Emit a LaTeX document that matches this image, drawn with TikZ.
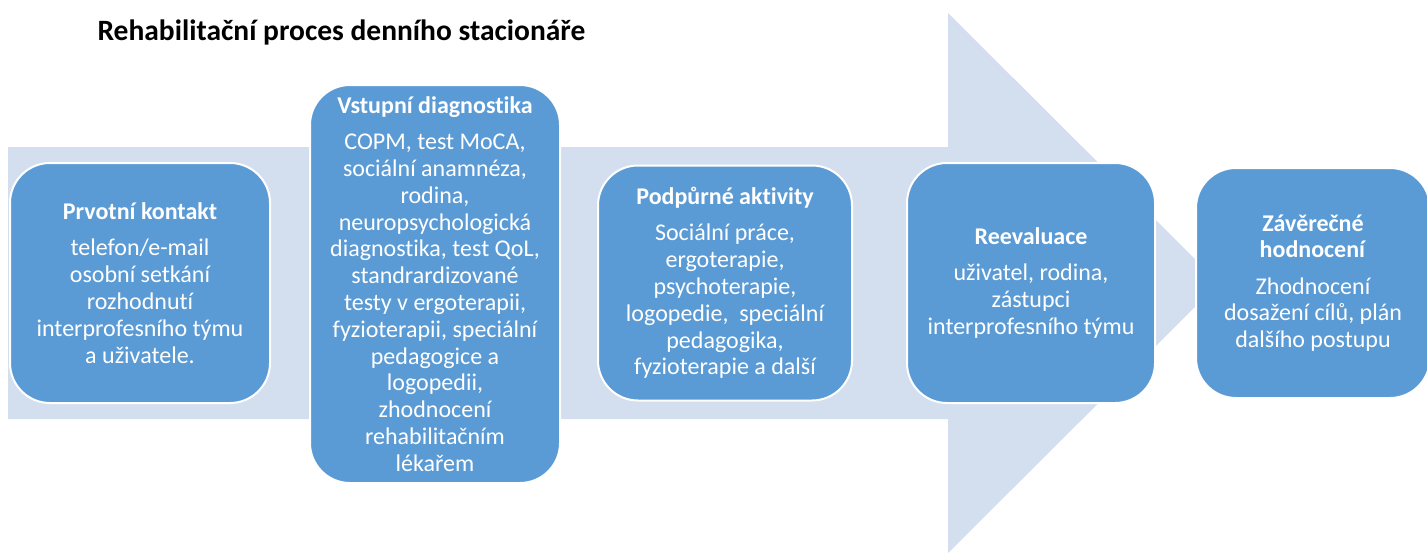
\documentclass[tikz,border=0pt]{standalone}
\usepackage{fontspec}
\setmainfont{Carlito}[RawFeature=-liga]
\usetikzlibrary{positioning}
\definecolor{boxblue}{RGB}{91,155,213}
\definecolor{arrowblue}{RGB}{211,222,239}

\begin{document}
\begin{tikzpicture}[x=1pt, y=-1pt,
    stepbox/.style={draw=white, line width=2pt, fill=boxblue, rounded corners=40pt,
      text=white, align=center, inner sep=0pt,
      font=\fontsize{24}{26.8}\selectfont}]
  \useasboundingbox (0,0) rectangle (1427,552);
  \clip (0,0) rectangle (1427,552);
  % big arrow behind the steps
  \fill[arrowblue] (8,147) -- (948,147) -- (948,13) -- (1219,283) -- (948,553) -- (948,419) -- (8,419) -- cycle;
  \node[anchor=base west, font=\bfseries\fontsize{29.5}{33}\selectfont] (titul) at (94,40) {Rehabilitační proces denního stacionáře};
  % steps
  \node[stepbox, minimum width=260pt, minimum height=240pt] (kontakt) at (140,283)
    {\textbf{Prvotní kontakt}\\[9.5pt] telefon/e-mail\\ osobní setkání\\ rozhodnutí\\ interprofesního týmu\\ a uživatele.};
  \node[stepbox, minimum width=250pt, minimum height=398pt] (diagnostika) at (435,284)
    {\textbf{Vstupní diagnostika}\\[9.5pt] COPM, test MoCA,\\ sociální anamnéza,\\ rodina,\\ neuropsychologická\\ diagnostika, test QoL,\\ standrardizované\\ testy v ergoterapii,\\ fyzioterapii, speciální\\ pedagogice a\\ logopedii,\\ zhodnocení\\ rehabilitačním\\ lékařem};
  \node[stepbox, minimum width=254pt, minimum height=235pt] (aktivity) at (725,283)
    {\textbf{Podpůrné aktivity}\\[9.5pt] Sociální práce,\\ ergoterapie,\\ psychoterapie,\\ logopedie,~ speciální\\ pedagogika,\\ fyzioterapie a další};
  \node[stepbox, minimum width=248pt, minimum height=240pt] (reevaluace) at (1031,283)
    {\textbf{Reevaluace}\\[9.5pt] uživatel, rodina,\\ zástupci\\ interprofesního týmu};
  \node[stepbox, minimum width=234pt, minimum height=230pt] (zaver) at (1313,283)
    {\textbf{Závěrečné}\\ \textbf{hodnocení}\\[9.5pt] Zhodnocení\\ dosažení cílů, plán\\ dalšího postupu};
\end{tikzpicture}
\end{document}
